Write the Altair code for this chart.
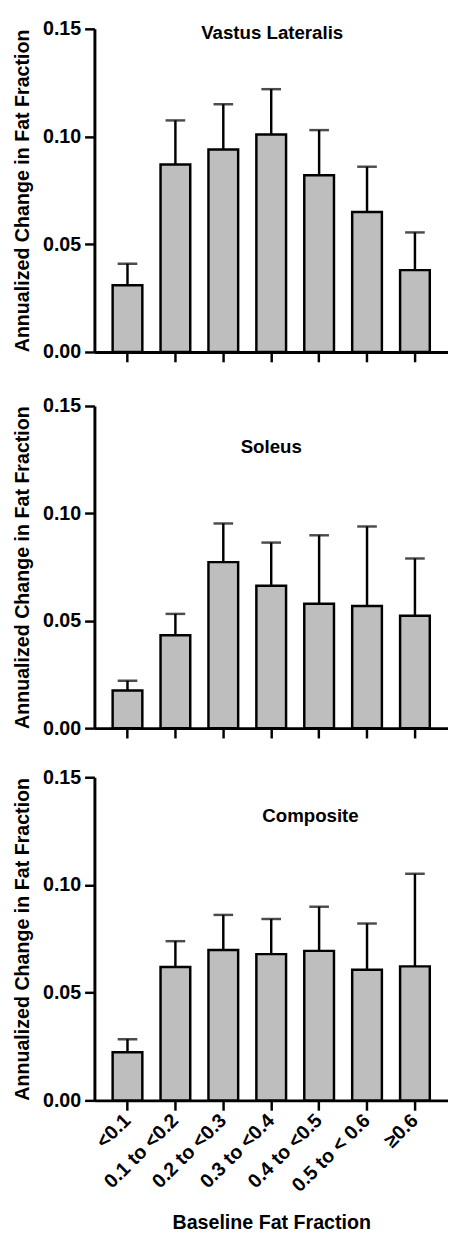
import altair as alt
import pandas as pd

categories = ["<0.1", "0.1 to <0.2", "0.2 to <0.3", "0.3 to <0.4",
              "0.4 to <0.5", "0.5 to < 0.6", "\u22650.6"]

vastus_mean = [0.031, 0.087, 0.094, 0.101, 0.082, 0.065, 0.038]
vastus_sem = [0.010, 0.0205, 0.021, 0.021, 0.021, 0.021, 0.0175]

soleus_mean = [0.0175, 0.0433, 0.0773, 0.0663, 0.0579, 0.0569, 0.0523]
soleus_sem = [0.0046, 0.0099, 0.018, 0.0201, 0.0319, 0.037, 0.0267]

composite_mean = [0.0223, 0.0619, 0.0698, 0.0679, 0.0694, 0.0606, 0.0622]
composite_sem = [0.0061, 0.012, 0.0163, 0.0163, 0.0205, 0.0215, 0.043]

y_ticks = [0.0, 0.05, 0.10, 0.15]

FONT = "Liberation Sans"
W, H = 360, 329


def panel(title, means, sems, dx, dy, bottom=False, height=H):
    df = pd.DataFrame({
        "cat": categories,
        "mean": means,
        "upper": [m + s for m, s in zip(means, sems)],
    })
    if bottom:
        xaxis = alt.Axis(title="Baseline Fat Fraction", labelAngle=-45,
                         labelFontSize=20, labelFont=FONT, labelFontWeight="bold",
                         labelColor="black", titleFontSize=20, titleFont=FONT,
                         titleFontWeight="bold", titleColor="black",
                         titlePadding=18, labelPadding=7)
    else:
        xaxis = alt.Axis(title=None, labels=False)
    x = alt.X("cat:N", sort=categories, axis=xaxis,
              scale=alt.Scale(paddingInner=0.38, paddingOuter=0.38))
    yscale = alt.Scale(domain=[0, 0.15], nice=False)
    yaxis = alt.Axis(title="Annualized Change in Fat Fraction", values=y_ticks,
                     format=".2f", labelFontSize=20, labelFont=FONT,
                     labelFontWeight="bold", labelColor="black",
                     titleFontSize=20, titleFont=FONT, titleFontWeight="bold",
                     titleColor="black", titlePadding=10, labelPadding=4)
    base = alt.Chart(df)
    bars = base.mark_bar(color="#bebebe", stroke="black", strokeWidth=2.5).encode(
        x=x, y=alt.Y("mean:Q", scale=yscale, axis=yaxis))
    rule = base.mark_rule(color="black", strokeWidth=2.5).encode(
        x=alt.X("cat:N", sort=categories), y="mean:Q", y2="upper:Q")
    cap = base.mark_tick(color="black", thickness=2.5, size=20, orient="horizontal").encode(
        x=alt.X("cat:N", sort=categories), y="upper:Q")
    return alt.layer(rule, bars, cap).properties(
        width=W, height=height,
        title=alt.TitleParams(title, frame="group", anchor="middle", baseline="middle",
                              offset=0, dx=dx, dy=dy, fontSize=19, font=FONT,
                              fontWeight="bold", color="black"))


p1 = panel("Vastus Lateralis", vastus_mean, vastus_sem, 1, 33)
p2 = panel("Soleus", soleus_mean, soleus_sem, 0, 71, height=328)
p3 = panel("Composite", composite_mean, composite_sem, 40, 69, bottom=True)

chart = alt.vconcat(alt.vconcat(p1, p2, spacing=33), p3, spacing=28).properties(
    padding={"left": 5, "top": 0, "right": 0, "bottom": 0}
).configure_axis(
    domainColor="black", domainWidth=3, tickColor="black", tickWidth=2.5,
    tickSize=10, grid=False
).configure_view(stroke=None)

chart.save("out.html", embed_options={"renderer": "svg", "actions": False})
